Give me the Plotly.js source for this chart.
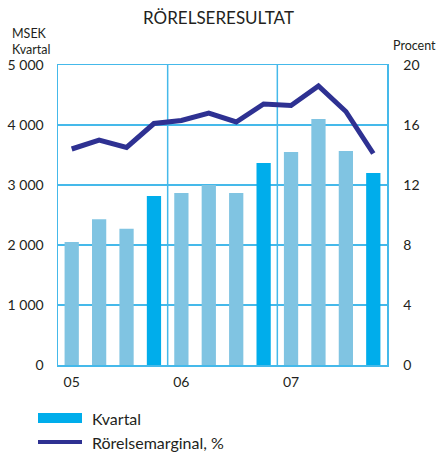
<!DOCTYPE html>
<html>
<head>
<meta charset="utf-8">
<script src="https://cdn.plot.ly/plotly-3.0.1.min.js"></script>
<style>html,body{margin:0;padding:0;background:#fff;}#chart{width:437px;height:453px;}</style>
</head>
<body>
<div id="chart"></div>
<script>
// Data
const quarters = ['2005 K1','2005 K2','2005 K3','2005 K4','2006 K1','2006 K2','2006 K3','2006 K4','2007 K1','2007 K2','2007 K3','2007 K4'];
const kvartal = [2050, 2430, 2270, 2815, 2865, 3000, 2865, 3365, 3550, 4100, 3565, 3200];
const marginal = [14.4, 15.0, 14.5, 16.1, 16.3, 16.8, 16.2, 17.4, 17.3, 18.6, 16.9, 14.1];
const yearTickVals = ['2005 K1','2006 K1','2007 K1'];
const yearTickText = ['05','06','07'];
const seriesNames = ['Kvartal','Rörelsemarginal, %'];
const titleText = 'RÖRELSERESULTAT';
const leftAxisLabel = 'MSEK<br>Kvartal';
const rightAxisLabel = 'Procent';

const cLight = '#80c4e2';
const cDark = '#00adeb';
const cLine = '#2e3192';
const cGrid = '#45b9ea';
const font = 'Lato, "Open Sans", sans-serif';
const textCol = '#231f20';

const barColors = quarters.map(q => q.endsWith('K4') ? cDark : cLight);

const traces = [
  {type:'bar', x: quarters, y: kvartal, name: seriesNames[0], marker:{color: barColors}, width: 0.52, hoverinfo:'skip'},
  {type:'scatter', mode:'lines', x: quarters, y: marginal, name: seriesNames[1], yaxis:'y2', line:{color: cLine, width: 5}, hoverinfo:'skip'}
];

const layout = {
  width: 437, height: 453,
  margin: {l: 58, r: 50, t: 65, b: 88},
  paper_bgcolor: '#fff', plot_bgcolor: '#fff',
  showlegend: false,
  separators: ', ',
  font: {family: font, color: textCol, size: 14},
  title: {text: titleText, font:{family: font, size: 17, color: textCol}, x: 0.5, xanchor:'center', y: 0.96, yanchor:'middle'},
  xaxis: {
    type:'category', range:[-0.5, 11.5], tickmode:'array', tickvals: yearTickVals, ticktext: yearTickText,
    showgrid:false, showline:true, linecolor: cGrid, linewidth: 1.5, mirror: true, ticks:'', zeroline:false,
    tickfont:{size: 14, family: font, color: textCol}, ticklabelstandoff: 4, fixedrange:true
  },
  yaxis: {
    range:[0, 5000], tickvals:[0,1000,2000,3000,4000,5000], separatethousands: true,
    showgrid:true, gridcolor: cGrid, gridwidth: 1.5, showline:true, linecolor: cGrid, linewidth:1.5,
    zeroline:false, ticks:'', tickfont:{size: 14, family: font, color: textCol}, ticklabelstandoff: 10, fixedrange:true
  },
  yaxis2: {
    overlaying:'y', side:'right', range:[0, 20], tickvals:[0,4,8,12,16,20],
    showgrid:false, showline:true, linecolor: cGrid, linewidth:1.5, zeroline:false, ticks:'',
    tickfont:{size: 14, family: font, color: textCol}, ticklabelstandoff: 12, fixedrange:true
  },
  shapes: [
    {type:'line', xref:'x', yref:'paper', x0:3.5, x1:3.5, y0:0, y1:1, line:{color: cGrid, width:1.5}, layer:'below'},
    {type:'line', xref:'x', yref:'paper', x0:7.5, x1:7.5, y0:0, y1:1, line:{color: cGrid, width:1.5}, layer:'below'},
    {type:'rect', xref:'paper', yref:'paper', x0:(38-58)/329, x1:(82-58)/329, y0:(365-423)/300, y1:(365-413)/300, fillcolor: cDark, line:{width:0}},
    {type:'line', xref:'paper', yref:'paper', x0:(38-58)/329, x1:(82-58)/329, y0:(365-442)/300, y1:(365-442)/300, line:{color: cLine, width:4}}
  ],
  annotations: [
    {xref:'paper', yref:'paper', x:(10-58)/329, y:(365-24)/300, xanchor:'left', yanchor:'top', align:'left', showarrow:false,
     text: leftAxisLabel, font:{size: 12.5, family: font, color: textCol}},
    {xref:'paper', yref:'paper', x:(391-58)/329, y:(365-36)/300, xanchor:'left', yanchor:'top', align:'left', showarrow:false,
     text: rightAxisLabel, font:{size: 12.5, family: font, color: textCol}},
    {xref:'paper', yref:'paper', x:(90-58)/329, y:(365-418)/300, xanchor:'left', yanchor:'middle', showarrow:false,
     text: seriesNames[0], font:{size: 16, family: font, color: textCol}},
    {xref:'paper', yref:'paper', x:(90-58)/329, y:(365-442)/300, xanchor:'left', yanchor:'middle', showarrow:false,
     text: seriesNames[1], font:{size: 16, family: font, color: textCol}}
  ]
};

Plotly.newPlot('chart', traces, layout, {staticPlot: true, displayModeBar: false});
</script>
</body>
</html>
